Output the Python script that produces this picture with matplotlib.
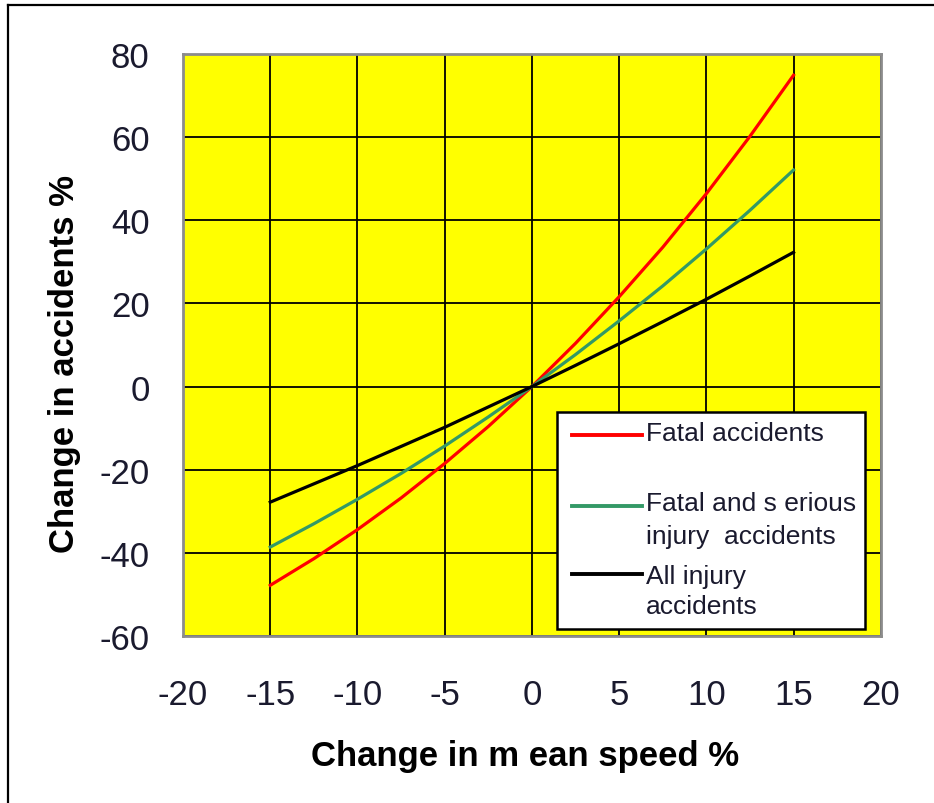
import matplotlib
matplotlib.use("Agg")
import matplotlib.pyplot as plt
from matplotlib.lines import Line2D
from matplotlib.patches import Rectangle

plt.rcParams['font.family'] = ['Liberation Sans', 'DejaVu Sans']
plt.rcParams['axes.unicode_minus'] = False

speed_change = [-15, -12.5, -10, -7.5, -5, -2.5, 0, 2.5, 5, 7.5, 10, 12.5, 15]
fatal = [-47.8, -41.4, -34.4, -26.8, -18.5, -9.6, 0, 10.4, 21.6, 33.5, 46.4, 60.2, 74.9]
fatal_serious = [-38.6, -33.0, -27.1, -20.9, -14.3, -7.3, 0, 7.7, 15.8, 24.2, 33.1, 42.4, 52.1]
all_injury = [-27.8, -23.4, -19.0, -14.4, -9.8, -4.9, 0, 5.1, 10.3, 15.6, 21.0, 26.6, 32.3]

series_labels = [["Fatal accidents"], ["Fatal and s erious", "injury  accidents"], ["All injury", "accidents"]]
series_colors = ["#ff0000", "#339966", "#000000"]

x_ticks = [-20, -15, -10, -5, 0, 5, 10, 15, 20]
y_ticks = [-60, -40, -20, 0, 20, 40, 60, 80]

fig = plt.figure(figsize=(9.34, 8.04), dpi=100)
ax = fig.add_axes([0.196, 0.2077, 0.747, 0.7239])
ax.set_facecolor("#ffff00")
ax.set_xlim(-20, 20)
ax.set_ylim(-60, 80)
ax.set_xticks(x_ticks)
ax.set_yticks(y_ticks)
ax.tick_params(length=0, labelsize=25, colors="#1a1a2e")
ax.tick_params(axis='y', pad=24)
ax.tick_params(axis='x', pad=30)
for s in ax.spines.values():
    s.set_color("#8c8c8c")
    s.set_linewidth(2)
ax.grid(True, color="black", linewidth=1.3)
ax.set_axisbelow(True)

for vals, col in zip([fatal, fatal_serious, all_injury], series_colors):
    ax.plot(speed_change, vals, color=col, linewidth=2.3, zorder=3)

# legend drawn in axes coordinates
ax.add_patch(Rectangle((0.536, 0.012), 0.442, 0.373, transform=ax.transAxes,
                       facecolor="white", edgecolor="black", linewidth=1.8, zorder=5))
handle_y = [0.345, 0.223, 0.107]
text_y = [[0.349], [0.228, 0.171], [0.103, 0.051]]
for hy, tys, col, labs in zip(handle_y, text_y, series_colors, series_labels):
    ax.add_line(Line2D([0.557, 0.658], [hy, hy], transform=ax.transAxes,
                       color=col, linewidth=2.8, zorder=6))
    for ty, lab in zip(tys, labs):
        ax.text(0.664, ty, lab, transform=ax.transAxes, fontsize=19, va="center",
                ha="left", color="#1a1a2e", zorder=7)

fig.text(0.562, 0.0585, "Change in m ean speed %", fontsize=25, fontweight="bold",
         ha="center", va="center")
fig.text(0.0695, 0.547, "Change in accidents %", fontsize=25, fontweight="bold",
         ha="center", va="center", rotation=90)

# figure border (top and left)
fig.add_artist(Line2D([0.0086, 1.0], [0.9925, 0.9925], transform=fig.transFigure,
                      color="black", linewidth=1.6))
fig.add_artist(Line2D([0.0086, 0.0086], [0.0, 0.9925], transform=fig.transFigure,
                      color="black", linewidth=1.6))

fig.savefig("out.png", dpi=100)
